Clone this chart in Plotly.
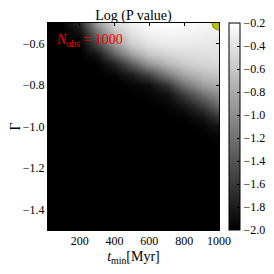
import plotly.graph_objects as go

# Grid of the reference image (log P value)
t_min = [0, 100, 200, 300, 400, 500, 600, 700, 800, 900, 1000]
gamma = [-1.50, -1.45, -1.40, -1.35, -1.30, -1.25, -1.20, -1.15, -1.10, -1.05,
         -1.00, -0.95, -0.90, -0.85, -0.80, -0.75, -0.70, -0.65, -0.60, -0.55, -0.50]

B = [-2.0] * 11
logp = [
    B, B, B, B, B, B, B, B, B,                                                        # -1.50 .. -1.10
    [-2, -2, -2, -2, -2, -2, -2, -2, -2, -2, -1.97],                                  # -1.05
    [-2, -2, -2, -2, -2, -2, -2, -2, -2, -1.97, -1.85],                               # -1.00
    [-2, -2, -2, -2, -2, -2, -2, -2, -1.97, -1.85, -1.6],                             # -0.95
    [-2, -2, -2, -2, -2, -2, -2, -1.97, -1.85, -1.6, -1.25],                          # -0.90
    [-2, -2, -2, -2, -2, -2, -1.97, -1.9, -1.6, -1.25, -1.0],                         # -0.85
    [-2, -2, -2, -2, -2, -1.97, -1.9, -1.65, -1.2, -0.9, -0.78],                      # -0.80
    [-2, -2, -2, -2, -1.97, -1.8, -1.55, -1.15, -0.85, -0.68, -0.6],                  # -0.75
    [-2, -2, -2, -2, -1.75, -1.35, -0.95, -0.72, -0.58, -0.5, -0.47],                 # -0.70
    [-2, -2, -2, -1.85, -1.3, -0.85, -0.6, -0.5, -0.45, -0.43, -0.42],                # -0.65
    [-2, -2, -2, -1.5, -0.9, -0.55, -0.4, -0.35, -0.35, -0.36, -0.38],                # -0.60
    [-2, -2, -1.9, -1.2, -0.65, -0.4, -0.3, -0.27, -0.28, -0.3, -0.32],               # -0.55
    [-2, -2, -1.7, -0.9, -0.45, -0.3, -0.22, -0.2, -0.22, -0.25, -0.28],              # -0.50
]

marker_t = [1000]
marker_gamma = [-0.5]

cbar_ticks = [-2.0, -1.8, -1.6, -1.4, -1.2, -1.0, -0.8, -0.6, -0.4, -0.2]
x_ticks = [200, 400, 600, 800, 1000]
y_ticks = [-1.4, -1.2, -1.0, -0.8, -0.6]

def fmt(v):
    return f"{v:.1f}".replace("-", "\u2212")

FAM = "Liberation Serif, DejaVu Serif, serif"
font = dict(family=FAM, color="black", size=12)

fig = go.Figure()
fig.add_trace(go.Heatmap(
    x=t_min, y=gamma, z=logp,
    zmin=-2.0, zmax=-0.2,
    colorscale=[[0, "black"], [1, "white"]],
    zsmooth="best",
    colorbar=dict(
        x=1.058, xanchor="left", xpad=0, y=0.5, yanchor="middle",
        len=1.0, lenmode="fraction", thickness=11, thicknessmode="pixels",
        outlinewidth=1, outlinecolor="black",
        tickvals=cbar_ticks, ticktext=[fmt(v) for v in cbar_ticks],
        ticks="inside", ticklen=3, tickcolor="black",
        tickfont=font, ypad=0,
    ),
))
fig.add_trace(go.Scatter(
    x=marker_t, y=marker_gamma, mode="markers",
    marker=dict(size=14, color="#bfbf00", line=dict(color="#808000", width=1)),
    cliponaxis=True, showlegend=False, hoverinfo="skip",
))

fig.add_annotation(
    x=55, y=-0.585, xref="x", yref="y", xanchor="left", yanchor="middle",
    text="<i>N</i><sub>obs</sub> = 1000", showarrow=False,
    font=dict(family=FAM, color="red", size=14),
)

fig.update_layout(
    width=258, height=258,
    margin=dict(l=40, r=47, t=15, b=36, autoexpand=False),
    paper_bgcolor="white", plot_bgcolor="black",
    font=font,
    title=dict(text="Log (P value)", x=0.5, xref="paper", xanchor="center",
               y=1, yref="paper", yanchor="bottom", pad=dict(b=3),
               font=dict(family=FAM, size=14, color="black")),
    showlegend=False,
)
fig.update_xaxes(
    range=[18, 1000], tickvals=x_ticks, ticktext=[str(v) for v in x_ticks],
    ticks="inside", ticklen=3, tickcolor="black", mirror="ticks",
    showline=True, linecolor="black", linewidth=1, showgrid=False, zeroline=False,
    automargin=False,
    title=dict(text="<i>t</i><sub>min</sub>[Myr]", font=dict(family=FAM, size=14), standoff=5),
    tickfont=font,
)
fig.update_yaxes(
    range=[-1.5, -0.5], tickvals=y_ticks, ticktext=[fmt(v) for v in y_ticks],
    ticks="inside", ticklen=3, tickcolor="black", mirror="ticks",
    showline=True, linecolor="black", linewidth=1, showgrid=False, zeroline=False,
    automargin=False,
    title=dict(text="Γ", font=dict(family=FAM, size=14), standoff=9),
    tickfont=font,
)

fig.write_html("out.html")
